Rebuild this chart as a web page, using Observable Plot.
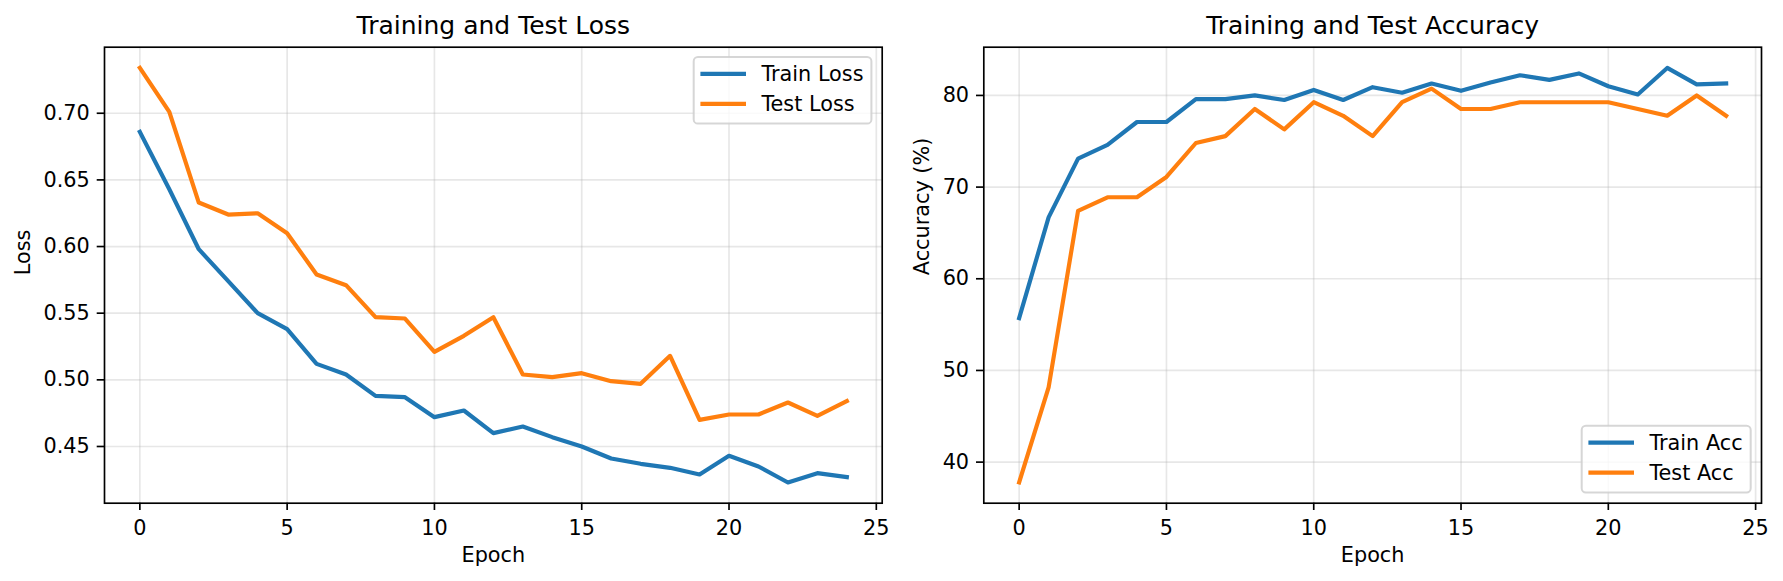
<!DOCTYPE html>
<html>
<head>
<meta charset="utf-8">
<script src="https://cdn.jsdelivr.net/npm/d3@7"></script>
<script src="https://cdn.jsdelivr.net/npm/@observablehq/plot@0.6"></script>
<style>
  html, body { margin: 0; padding: 0; background: white; }
  #wrap { position: relative; width: 1783px; height: 581px; background: white; overflow: hidden; }
  #wrap > svg { position: absolute; top: 0; }
</style>
</head>
<body>
<div id="wrap"></div>
<script>
// ---------------- data ----------------
const epochs = [0, 1, 2, 3, 4, 5, 6, 7, 8, 9, 10, 11, 12, 13, 14, 15, 16, 17, 18, 19, 20, 21, 22, 23, 24];

const trainLoss = [0.686, 0.643, 0.598, 0.574, 0.550, 0.538, 0.512, 0.504, 0.488, 0.487,
                   0.472, 0.477, 0.460, 0.465, 0.457, 0.450, 0.441, 0.437, 0.434, 0.429,
                   0.443, 0.435, 0.423, 0.430, 0.427];
const testLoss  = [0.734, 0.701, 0.633, 0.624, 0.625, 0.610, 0.579, 0.571, 0.547, 0.546,
                   0.521, 0.533, 0.547, 0.504, 0.502, 0.505, 0.499, 0.497, 0.518, 0.470,
                   0.474, 0.474, 0.483, 0.473, 0.484];

const trainAcc = [55.7, 66.7, 73.1, 74.6, 77.1, 77.1, 79.6, 79.6, 80.0, 79.5,
                  80.6, 79.5, 80.9, 80.3, 81.3, 80.5, 81.4, 82.2, 81.7, 82.4,
                  81.0, 80.1, 83.0, 81.2, 81.3];
const testAcc  = [37.78, 48.15, 67.41, 68.89, 68.89, 71.11, 74.81, 75.56, 78.52, 76.30,
                  79.26, 77.78, 75.56, 79.26, 80.74, 78.52, 78.52, 79.26, 79.26, 79.26,
                  79.26, 78.52, 77.78, 80.00, 77.78];

const xTicks = [0, 5, 10, 15, 20, 25];
const lossTicks = [0.45, 0.50, 0.55, 0.60, 0.65, 0.70];
const accTicks = [40, 50, 60, 70, 80];

const lossSeries = ["Train Loss", "Test Loss"];
const accSeries = ["Train Acc", "Test Acc"];
const titles = ["Training and Test Loss", "Training and Test Accuracy"];
const xLabel = "Epoch";
const yLabels = ["Loss", "Accuracy (%)"];

// ---------------- style ----------------
const FONT = "DejaVu Sans";
const FS = 20.8;
const COLORS = ["#1f77b4", "#ff7f0e"];
const LW = 4.17;
const AXW = 1.67;

function padded(values) {
  const [a, b] = d3.extent(values);
  const r = b - a;
  return [a - 0.05 * r, b + 0.05 * r];
}

function legendMark(labels, corner, boxW) {
  return (index, scales, values, dims) => {
    const {width, height, marginRight, marginTop, marginBottom} = dims;
    const bh = 66.6, gap = 10.3;
    const x0 = width - marginRight - gap - boxW;
    const y0 = corner === "top" ? marginTop + gap : height - marginBottom - gap - bh;
    const g = d3.create("svg:g").attr("text-anchor", "start");
    g.append("rect")
      .attr("x", x0).attr("y", y0).attr("width", boxW).attr("height", bh).attr("rx", 4.2)
      .attr("fill", "white").attr("fill-opacity", 0.8)
      .attr("stroke", "#cccccc").attr("stroke-opacity", 0.8).attr("stroke-width", 2);
    labels.forEach((lab, i) => {
      const y = y0 + 16.8 + i * 30;
      g.append("line")
        .attr("x1", x0 + 6.7).attr("x2", x0 + 52.3).attr("y1", y).attr("y2", y)
        .attr("stroke", COLORS[i]).attr("stroke-width", LW);
      g.append("text")
        .attr("x", x0 + 67.7).attr("y", y + 7.4)
        .attr("text-anchor", "start")
        .attr("font-family", FONT).attr("font-size", FS).attr("fill", "black")
        .text(lab);
    });
    return g.node();
  };
}

function panel({title, ylabel, series, train, test, yTicks, yFormat, legendCorner, legendW,
                width, marginLeft, marginRight, ylabelDx}) {
  const rows = [];
  epochs.forEach((e, i) => {
    rows.push({epoch: e, value: train[i], series: series[0]});
    rows.push({epoch: e, value: test[i], series: series[1]});
  });
  return Plot.plot({
    width,
    height: 581,
    marginLeft,
    marginRight,
    marginTop: 46.7,
    marginBottom: 78.3,
    style: {fontFamily: FONT, fontSize: FS + "px", color: "black", background: "white", overflow: "visible"},
    x: {domain: padded(epochs), label: null},
    y: {domain: padded(train.concat(test)), label: null},
    color: {domain: series, range: COLORS},
    marks: [
      Plot.gridX({ticks: xTicks, stroke: "#b0b0b0", strokeOpacity: 0.3, strokeWidth: AXW}),
      Plot.gridY({ticks: yTicks, stroke: "#b0b0b0", strokeOpacity: 0.3, strokeWidth: AXW}),
      Plot.line(rows, {x: "epoch", y: "value", z: "series", stroke: "series",
                       strokeWidth: LW, strokeLinejoin: "round", strokeLinecap: "square"}),
      Plot.frame({stroke: "black", strokeWidth: AXW}),
      Plot.axisX({ticks: xTicks, tickSize: 7.3, tickPadding: 9.3, fontSize: FS,
                  label: null, stroke: "black", strokeWidth: AXW, tickFormat: d3.format("d")}),
      Plot.axisY({ticks: yTicks, tickSize: 7.3, tickPadding: 7.4, fontSize: FS,
                  label: null, stroke: "black", strokeWidth: AXW, tickFormat: yFormat}),
      Plot.text([title], {text: d => d, frameAnchor: "top", lineAnchor: "bottom", dy: -13.4,
                          fontSize: 25, fill: "black"}),
      Plot.text([xLabel], {text: d => d, frameAnchor: "bottom", lineAnchor: "bottom", dy: 59,
                           fontSize: FS, fill: "black"}),
      Plot.text([ylabel], {text: d => d, frameAnchor: "left", lineAnchor: "bottom", rotate: -90,
                           dx: ylabelDx, fontSize: FS, fill: "black"}),
      legendMark(series, legendCorner, legendW)
    ]
  });
}

const wrap = document.getElementById("wrap");

const left = panel({
  title: titles[0], ylabel: yLabels[0], series: lossSeries,
  train: trainLoss, test: testLoss, yTicks: lossTicks, yFormat: d3.format(".2f"),
  legendCorner: "top", legendW: 177.7,
  width: 891, marginLeft: 104, marginRight: 9.3, ylabelDx: -74.2
});
left.style.left = "0px";
wrap.appendChild(left);

const right = panel({
  title: titles[1], ylabel: yLabels[1], series: accSeries,
  train: trainAcc, test: testAcc, yTicks: accTicks, yFormat: d3.format("d"),
  legendCorner: "bottom", legendW: 169,
  width: 892, marginLeft: 92.3, marginRight: 22, ylabelDx: -54.4
});
right.style.left = "891px";
wrap.appendChild(right);
</script>
</body>
</html>
